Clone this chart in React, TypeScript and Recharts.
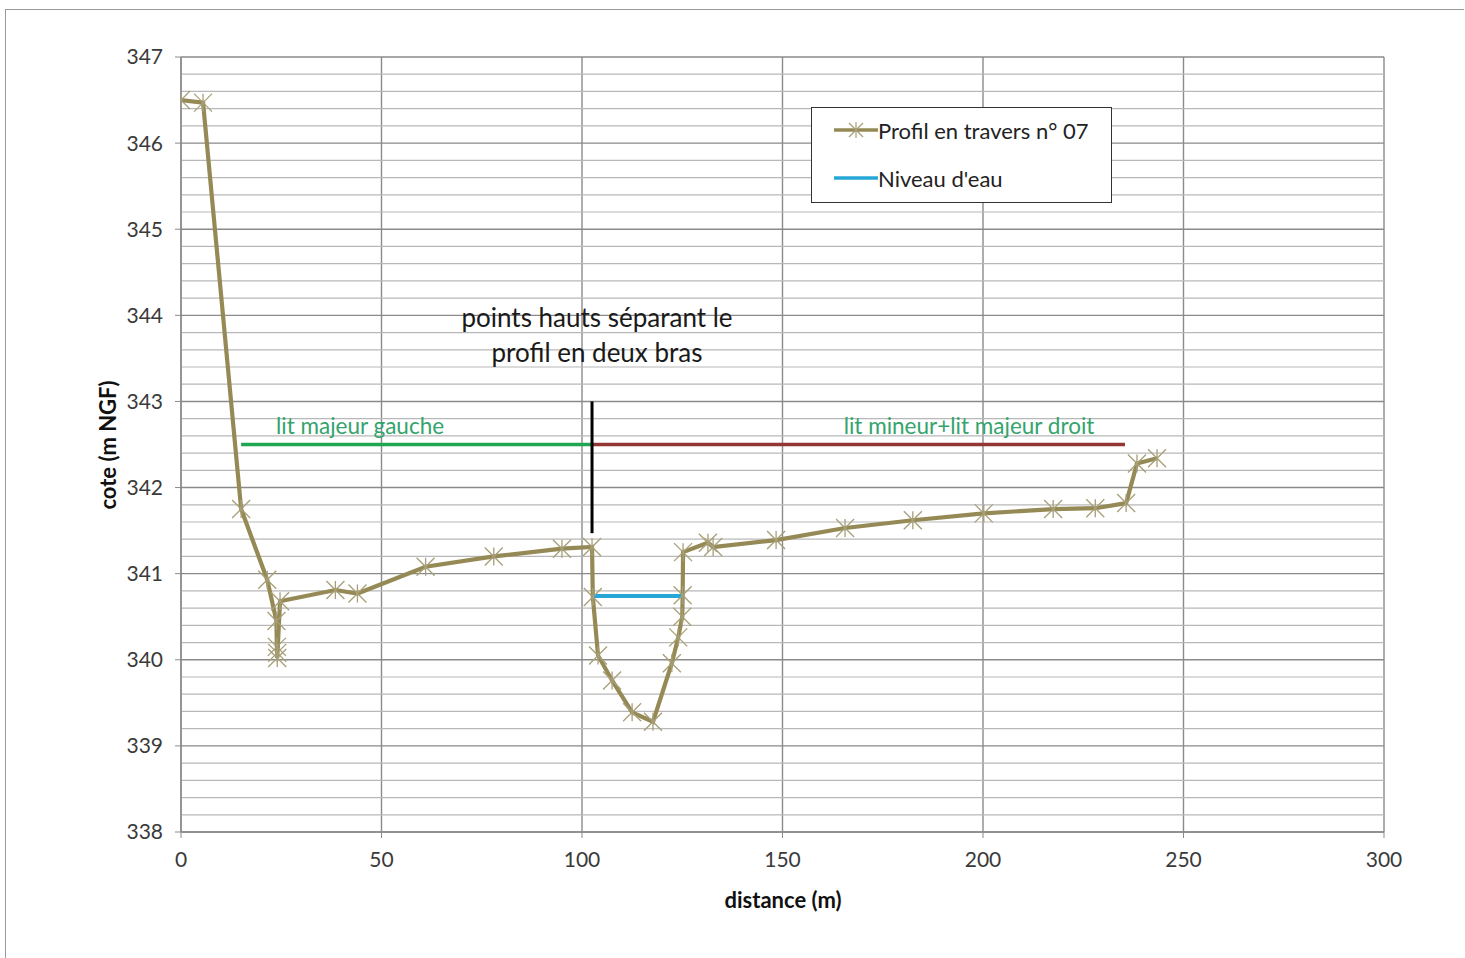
import React from 'react';
import { ComposedChart, Line, XAxis, YAxis, CartesianGrid, ReferenceLine } from 'recharts';

// cross-section profile n° 07 (distance m, cote m NGF)
const profileDistance = [
  0, 5.5, 15, 21.5, 23.8, 23.9, 24, 24, 24.7, 38.5, 44, 61, 78, 95, 102.5,
  102.7, 104, 107.5, 112.5, 117.7, 122.4, 124, 125, 125.1, 125.2, 131.4, 132.7,
  148.4, 165.6, 182.5, 200.2, 217.5, 228, 235.7, 238.4, 243.4,
];
const profileCote = [
  346.5, 346.47, 341.75, 340.93, 340.45, 340.15, 340.08, 340.02, 340.68, 340.81, 340.77, 341.08, 341.2, 341.29, 341.31,
  340.73, 340.05, 339.76, 339.39, 339.28, 339.96, 340.26, 340.5, 340.75, 341.25, 341.36, 341.31,
  341.39, 341.53, 341.62, 341.7, 341.75, 341.76, 341.82, 342.28, 342.34,
];

const waterDistance = [102.5, 125];
const waterCote = [340.74, 340.74];

const leftBedDistance = [15, 102.5];
const rightBedDistance = [102.5, 235.4];
const bedCote = [342.5, 342.5];

const separatorDistance = [102.5, 102.5];
const separatorCote = [343.0, 341.47];

const xTicks = [0, 50, 100, 150, 200, 250, 300];
const yTicks = [338, 339, 340, 341, 342, 343, 344, 345, 346, 347];
const yMinorTicks = [
  338.2, 338.4, 338.6, 338.8, 339.2, 339.4, 339.6, 339.8, 340.2, 340.4, 340.6, 340.8,
  341.2, 341.4, 341.6, 341.8, 342.2, 342.4, 342.6, 342.8, 343.2, 343.4, 343.6, 343.8,
  344.2, 344.4, 344.6, 344.8, 345.2, 345.4, 345.6, 345.8, 346.2, 346.4, 346.6, 346.8,
];

const zip = (xs: number[], ys: number[]) => xs.map((d, i) => ({ d, v: ys[i] }));

const profileData = zip(profileDistance, profileCote);
const waterData = zip(waterDistance, waterCote);
const leftBedData = zip(leftBedDistance, bedCote);
const rightBedData = zip(rightBedDistance, bedCote);
const separatorData = zip(separatorDistance, separatorCote);

const FONT = 'Lato, "Open Sans", sans-serif';
const OLIVE = '#958a55';
const STAR = '#a79f78';
const WATER = '#27a7d6';

const StarDot = (props: any) => {
  const { cx, cy, index } = props;
  if (cx == null || cy == null) return null;
  const r = 9;
  return (
    <g key={`star-${index}`} stroke={STAR} strokeWidth={1.3} fill="none">
      <line x1={cx - r} y1={cy - r} x2={cx + r} y2={cy + r} />
      <line x1={cx - r} y1={cy + r} x2={cx + r} y2={cy - r} />
      <line x1={cx} y1={cy - r} x2={cx} y2={cy + r} />
    </g>
  );
};

const LegendBox = () => (
  <div
    style={{
      position: 'absolute',
      left: 811,
      top: 107,
      border: '1px solid #333',
      background: '#fff',
      width: 301,
      height: 96,
      boxSizing: 'border-box',
      fontFamily: FONT,
      fontSize: 22,
      color: '#222',
      paddingLeft: 22,
    }}
  >
    <div style={{ display: 'flex', alignItems: 'center', height: 24, marginTop: 10 }}>
      <svg width={44} height={22}>
        <line x1={0} y1={11} x2={44} y2={11} stroke={OLIVE} strokeWidth={3.5} />
        <line x1={15} y1={4} x2={29} y2={18} stroke={STAR} strokeWidth={1.2} />
        <line x1={15} y1={18} x2={29} y2={4} stroke={STAR} strokeWidth={1.2} />
        <line x1={22} y1={3} x2={22} y2={19} stroke={STAR} strokeWidth={1.2} />
      </svg>
      <span>Profil en travers n° 07</span>
    </div>
    <div style={{ display: 'flex', alignItems: 'center', height: 24, marginTop: 24 }}>
      <svg width={44} height={22}>
        <line x1={0} y1={11} x2={44} y2={11} stroke={WATER} strokeWidth={3.5} />
      </svg>
      <span>Niveau d'eau</span>
    </div>
  </div>
);

const note: React.CSSProperties = {
  position: 'absolute',
  fontFamily: FONT,
  whiteSpace: 'nowrap',
  transform: 'translate(-50%, -50%)',
};

export default function App() {
  return (
    <div style={{ position: 'absolute', left: 0, top: 0, width: 1465, height: 958, background: '#fff', overflow: 'hidden' }}>
      <div style={{ position: 'absolute', left: 5, top: 9, width: 1458, height: 960, borderLeft: '1.5px solid #9a9a9a', borderTop: '1.5px solid #9a9a9a' }} />
      <ComposedChart
        width={1465}
        height={958}
        margin={{ top: 57, right: 81, bottom: 96, left: 101 }}
        style={{ position: 'absolute', left: 0, top: 0 }}
      >
        <CartesianGrid stroke="#8a8a8a" strokeWidth={1.4} />
        <XAxis
          dataKey="d"
          type="number"
          domain={[0, 300]}
          ticks={xTicks}
          allowDataOverflow
          height={30}
          axisLine={{ stroke: '#8a8a8a', strokeWidth: 1.4 }}
          tickLine={{ stroke: '#8a8a8a' }}
          tickSize={6}
          tick={{ fontFamily: FONT, fontSize: 21, fill: '#3a3a3a', dy: 12 }}
        />
        <YAxis
          type="number"
          domain={[338, 347]}
          ticks={yTicks}
          allowDataOverflow
          width={80}
          axisLine={{ stroke: '#8a8a8a', strokeWidth: 1.4 }}
          tickLine={{ stroke: '#8a8a8a' }}
          tickSize={6}
          tick={{ fontFamily: FONT, fontSize: 21, fill: '#3a3a3a', dx: -10 }}
        />
        {yMinorTicks.map((v) => (
          <ReferenceLine key={`minor-${v}`} y={v} stroke="#b8b8b8" strokeWidth={1.2} ifOverflow="hidden" />
        ))}
        <Line data={leftBedData} dataKey="v" stroke="#1fa650" strokeWidth={3.5} dot={false} isAnimationActive={false} />
        <Line data={rightBedData} dataKey="v" stroke="#943634" strokeWidth={3.5} dot={false} isAnimationActive={false} />
        <Line data={separatorData} dataKey="v" stroke="#000" strokeWidth={3} dot={false} isAnimationActive={false} />
        <Line
          data={profileData}
          dataKey="v"
          name="Profil en travers n° 07"
          stroke={OLIVE}
          strokeWidth={4.2}
          dot={<StarDot />}
          isAnimationActive={false}
        />
        <Line
          data={waterData}
          dataKey="v"
          name="Niveau d'eau"
          stroke={WATER}
          strokeWidth={4}
          dot={false}
          isAnimationActive={false}
        />
      </ComposedChart>

      <LegendBox />
      <div style={{ ...note, left: 597, top: 317, fontSize: 26, color: '#1a1a1a' }}>points hauts séparant le</div>
      <div style={{ ...note, left: 597, top: 352, fontSize: 26, color: '#1a1a1a' }}>profil en deux bras</div>
      <div style={{ ...note, left: 360, top: 425, fontSize: 22.5, color: '#33a46b' }}>lit majeur gauche</div>
      <div style={{ ...note, left: 969, top: 425, fontSize: 22.5, color: '#33a46b' }}>lit mineur+lit majeur droit</div>
      <div style={{ ...note, left: 783, top: 899, fontSize: 22, fontWeight: 700, color: '#111' }}>distance (m)</div>
      <div style={{ ...note, left: 107, top: 445, fontSize: 22, fontWeight: 700, color: '#111', transform: 'translate(-50%, -50%) rotate(-90deg)' }}>
        cote (m NGF)
      </div>
    </div>
  );
}
